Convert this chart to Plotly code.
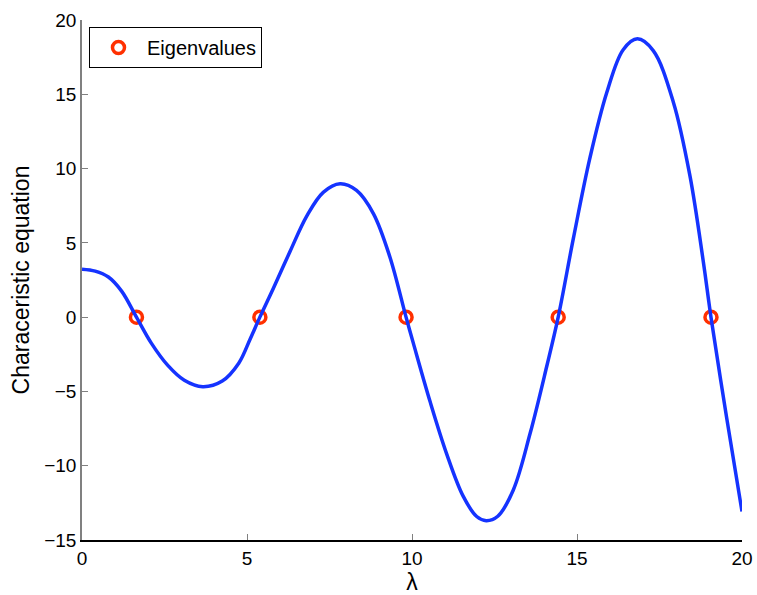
import plotly.graph_objects as go

# Characteristic equation curve
lam = [0, 0.4, 0.8, 1.2, 1.65, 2.1, 2.6, 3.1, 3.66, 4.25, 4.75, 5.1, 5.39,
       5.8, 6.3, 6.81, 7.31, 7.82, 8.32, 8.83, 9.33, 9.82, 10.04, 10.55, 11.05,
       11.55, 11.96, 12.25, 12.6, 13.07, 13.58, 14.08, 14.43, 14.89, 15.39,
       15.9, 16.4, 16.83, 17.31, 17.92, 18.42, 18.83, 19.06, 19.53, 20.0]
char_eq = [3.23, 3.1, 2.7, 1.75, 0, -1.75, -3.25, -4.25, -4.68, -4.3, -3.1,
           -1.45, 0, 1.95, 4.4, 6.8, 8.4, 8.98, 8.53, 6.97, 4.05, 0, -1.75,
           -5.7, -9.2, -12.05, -13.42, -13.7, -13.4, -11.63, -7.82, -3.34, 0,
           5.3, 10.7, 15.1, 18.0, 18.73, 17.94, 14.47, 9.54, 3.7, 0, -6.7,
           -13.08]

# Eigenvalues (roots)
eig_x = [1.65, 5.39, 9.82, 14.43, 19.06]
eig_y = [0, 0, 0, 0, 0]

x_ticks = [0, 5, 10, 15, 20]
y_ticks = [-15, -10, -5, 0, 5, 10, 15, 20]

FONT = "Liberation Sans, Arial, Helvetica, sans-serif"

fig = go.Figure()
fig.add_trace(go.Scatter(
    x=eig_x, y=eig_y, mode="markers", name="Eigenvalues",
    marker=dict(symbol="circle-open", size=12, color="#ff3000",
                line=dict(width=3.5, color="#ff3000")),
))
fig.add_trace(go.Scatter(
    x=lam, y=char_eq, mode="lines", showlegend=False,
    line=dict(color="#1533ff", width=3.5, shape="spline", smoothing=1.0),
))

fig.update_layout(
    width=757, height=595,
    margin=dict(l=82, r=15, t=20, b=55, autoexpand=False),
    paper_bgcolor="white", plot_bgcolor="white",
    font=dict(family=FONT, size=19, color="black"),
    legend=dict(x=0.0106, y=0.9865, xanchor="left", yanchor="top",
                bgcolor="white", bordercolor="black", borderwidth=1,
                font=dict(size=20), itemwidth=47),
    xaxis=dict(range=[0, 20], tickvals=x_ticks, ticks="inside", ticklen=6,
               tickcolor="#808080", showline=True, linecolor="black",
               linewidth=1.5, showgrid=False, zeroline=False,
               automargin=False,
               title=dict(text="λ", standoff=2)),
    yaxis=dict(range=[-15, 20], tickvals=y_ticks, ticks="inside", ticklen=6,
               tickcolor="#808080", showline=True, linecolor="#808080",
               linewidth=1.5, showgrid=False, zeroline=False,
               tickformat="d", automargin=False,
               title=dict(text="Characeristic equation", standoff=8)),
    showlegend=True,
)

fig.write_html("out.html")
